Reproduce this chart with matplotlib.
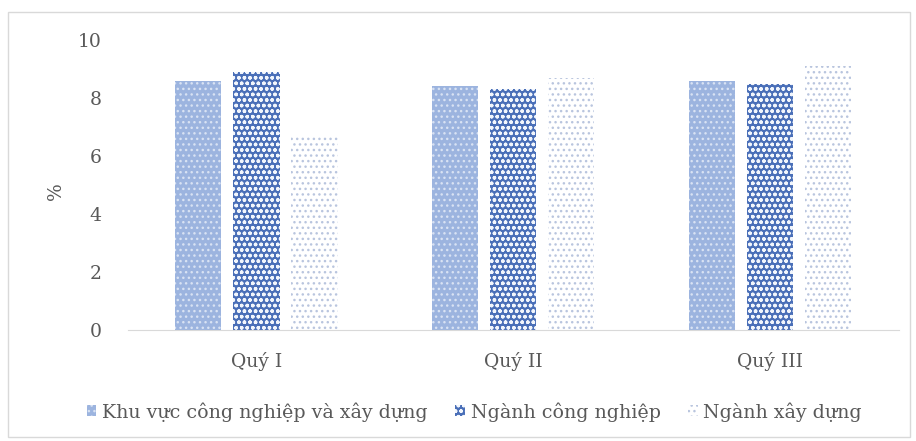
import matplotlib
matplotlib.use("Agg")
import matplotlib.pyplot as plt
import numpy as np
from matplotlib.patches import Rectangle

categories = ["Quý I", "Quý II", "Quý III"]
series_names = ["Khu vực công nghiệp và xây dựng", "Ngành công nghiệp", "Ngành xây dựng"]
khu_vuc = [8.6, 8.4, 8.6]
cong_nghiep = [8.9, 8.3, 8.5]
xay_dung = [6.7, 8.7, 9.1]

plt.rcParams["font.family"] = ["DejaVu Serif"]
plt.rcParams["hatch.linewidth"] = 1.0

text_col = "#595959"

fig = plt.figure(figsize=(9.16, 4.41), dpi=100)
ax = fig.add_axes([0.1397, 0.2517, 0.8413, 0.6575])

x = np.arange(len(categories))
w = 0.18
step = 0.226
styles = [
    dict(facecolor="#9cb4df", edgecolor="#d8e2f3", hatch="..."),
    dict(facecolor="#4a6fb8", edgecolor="#f2f6fc", hatch="ooo"),
    dict(facecolor="#ffffff", edgecolor="#b9c5de", hatch="..."),
]
handles = []
for i, vals in enumerate([khu_vuc, cong_nghiep, xay_dung]):
    b = ax.bar(x + (i - 1) * step, vals, w, linewidth=0, label=series_names[i], **styles[i])
    handles.append(b)

ax.set_xlim(-0.5, 2.5)
ax.set_ylim(0, 10)
ax.set_yticks(range(0, 11, 2))
ax.set_xticks(x)
ax.set_xticklabels(categories)
for s in ["top", "right", "left"]:
    ax.spines[s].set_visible(False)
ax.spines["bottom"].set_color("#d9d9d9")
ax.tick_params(axis="both", length=0, colors=text_col, labelsize=13.5)
ax.tick_params(axis="y", pad=19)
ax.tick_params(axis="x", pad=16)
ax.set_ylabel("%", color=text_col, fontsize=13.5)
ax.yaxis.set_label_coords(-0.082, 0.48)

fig.legend(handles=handles, labels=series_names, loc="center", bbox_to_anchor=(0.518, 0.066),
           ncol=3, frameon=False, fontsize=13.7, labelcolor=text_col,
           handlelength=0.5, handleheight=0.5, handletextpad=0.3, columnspacing=1.45)

fig.patches.append(Rectangle((8 / 916, 4 / 441), 902 / 916, 425 / 441, transform=fig.transFigure,
                             fill=False, edgecolor="#d9d9d9", linewidth=1))

fig.savefig("out.png", dpi=100)
